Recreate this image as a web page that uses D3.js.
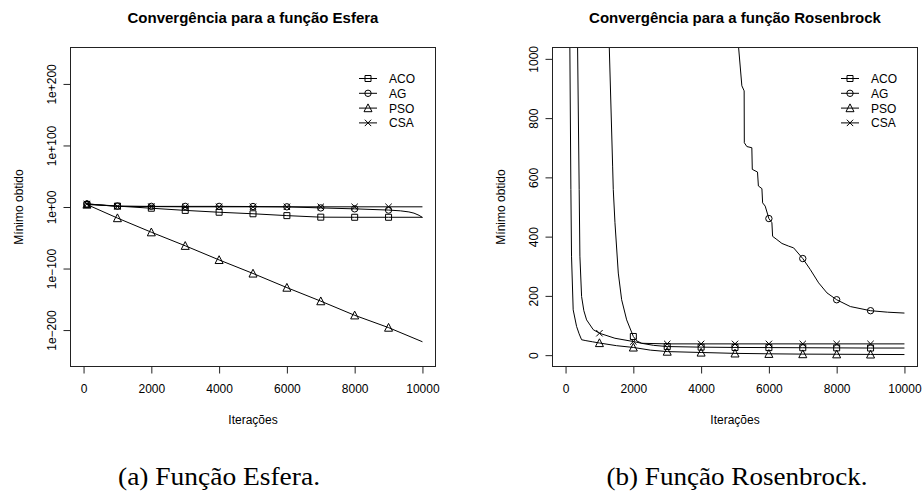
<!DOCTYPE html>
<html><head><meta charset="utf-8">
<script src="https://cdn.jsdelivr.net/npm/d3@7"></script>
<style>
body{margin:0;background:#fff}
svg{display:block}
text{font-family:"Liberation Sans",Arial,Helvetica,sans-serif;fill:#000}
</style>
</head><body>
<svg id="chart" width="922" height="491"></svg>
<script>
// ---------- shared ----------
const seriesNames = ["ACO", "AG", "PSO", "CSA"];
const markerIters = [100, 1000, 2000, 3000, 4000, 5000, 6000, 7000, 8000, 9000];
const xTicks = [0, 2000, 4000, 6000, 8000, 10000];

// ---------- Esfera (log scale) ----------
const esferaTitle = "Convergência para a função Esfera";
const esferaYTicks = [1e-200, 1e-100, 1, 1e100, 1e200];
const esferaYTickLabels = ["1e\u2212200", "1e\u2212100", "1e+00", "1e+100", "1e+200"];
const esferaIter = [100, 1000, 2000, 3000, 4000, 5000, 6000, 7000, 8000, 9000, 10000];
const esferaACO = [1e4, 3e1, 1e-2, 3e-6, 3e-9, 1e-11, 1e-14, 3e-17, 2e-17, 2e-17, 2e-17];
const esferaPSO = [1e4, 1e-18, 1e-41, 1e-63, 1e-86, 1e-108, 1e-131, 1e-153, 1e-176, 1e-196, 1e-219];
const esferaCSA = [1e5, 1e1, 5, 2, 2, 2, 2, 2, 2, 2, 2];
const esferaAGIter = [100, 1000, 2000, 3000, 4000, 5000, 6000, 7000, 8000, 9000, 9350, 9600, 9750, 9900, 10000];
const esferaAG = [1e5, 3e1, 1e1, 1e1, 1e1, 6, 2, 3e-2, 1e-3, 1e-5, 6e-7, 1e-8, 1e-10, 3e-14, 1e-17];

// ---------- Rosenbrock (linear scale) ----------
const rosenTitle = "Convergência para a função Rosenbrock";
const rosenYTicks = [0, 200, 400, 600, 800, 1000];
const rosenACOIter = [100, 1000, 1290, 1389, 1408, 1458, 1556, 1655, 1803, 2000, 2100, 2246, 2600, 3000, 4000, 5000, 6000, 7000, 8000, 9000, 10000];
const rosenACO = [30000, 3000, 1040, 638, 559, 447, 277, 187, 119, 63, 48, 40, 33, 29, 27, 26, 25.5, 25, 24.5, 24, 24];
const rosenAGIter = [100, 1000, 2000, 3000, 4000, 5000, 5102, 5202, 5270, 5275, 5350, 5497, 5510, 5664, 5690, 5794, 5815, 5891, 6000, 6089, 6110, 6237, 6385, 6582, 6730, 7000, 7221, 7468, 7715, 8000, 8404, 9000, 9500, 10000];
const rosenAG = [200000, 50000, 10000, 5000, 3000, 1500, 1044, 909, 892, 717, 704, 700, 627, 618, 571, 562, 514, 503, 461, 447, 401, 390, 377, 368, 362, 326, 289, 244, 210, 187, 164, 150, 145, 142];
const rosenPSOIter = [100, 127, 157, 176, 225, 325, 400, 473, 600, 800, 1000, 1500, 2000, 2500, 3000, 4000, 5000, 6000, 7000, 8000, 9000, 10000];
const rosenPSO = [4000, 1040, 559, 334, 153, 97, 72, 52, 49, 45, 41, 32, 26, 17, 12, 9, 6, 4.5, 3.5, 3, 2.5, 2];
const rosenCSAIter = [100, 355, 402, 423, 473, 540, 621, 817, 1000, 1457, 2000, 2246, 3000, 4000, 5000, 6000, 7000, 8000, 9000, 10000];
const rosenCSA = [6000, 1040, 559, 334, 198, 150, 119, 86, 74, 57, 46, 40, 38, 38, 38, 38, 38, 38, 38, 38];

const captions = ["(a) Função Esfera.", "(b) Função Rosenbrock."];

// ---------- drawing ----------
const svg = d3.select("#chart");

// R-like plotting symbols (open)
const symbolDefs = {
  ACO: { draw(ctx) { const h = 3; ctx.moveTo(-h, -h); ctx.lineTo(h, -h); ctx.lineTo(h, h); ctx.lineTo(-h, h); ctx.closePath(); } },
  AG: { draw(ctx) { const r = 3.2; ctx.moveTo(r, 0); ctx.arc(0, 0, r, 0, 2 * Math.PI); } },
  PSO: { draw(ctx) { const w = 4, h = 3.6; ctx.moveTo(0, -h - 0.6); ctx.lineTo(w, h); ctx.lineTo(-w, h); ctx.closePath(); } },
  CSA: { draw(ctx) { const h = 3.2; ctx.moveTo(-h, -h); ctx.lineTo(h, h); ctx.moveTo(h, -h); ctx.lineTo(-h, h); } }
};

function drawPanel(cfg) {
  const g = svg.append("g");
  const { left, right, top, bottom } = cfg.box;
  const x = d3.scaleLinear().domain([-400, 10400]).range([left, right]);
  const y = cfg.y;

  const clipId = "clip" + cfg.id;
  svg.append("clipPath").attr("id", clipId)
    .append("rect").attr("x", left).attr("y", top).attr("width", right - left).attr("height", bottom - top);

  const plot = g.append("g").attr("clip-path", `url(#${clipId})`);
  const line = d3.line().x(d => x(d[0])).y(d => y(d[1]));

  cfg.series.forEach(s => {
    const pts = s.iter.map((it, i) => [it, s.vals[i]]);
    plot.append("path").datum(pts).attr("d", line)
      .attr("fill", "none").attr("stroke", "#000").attr("stroke-width", 1);
    const mk = pts.filter(p => markerIters.includes(p[0]));
    plot.selectAll(null).data(mk).join("path")
      .attr("transform", d => `translate(${x(d[0])},${y(d[1])})`)
      .attr("d", d3.symbol().type(symbolDefs[s.name]).size(1)())
      .attr("fill", "none").attr("stroke", "#000").attr("stroke-width", 1);
  });

  // box
  g.append("rect").attr("x", left + 0.5).attr("y", top + 0.5)
    .attr("width", right - left - 1).attr("height", bottom - top - 1)
    .attr("fill", "none").attr("stroke", "#222").attr("stroke-width", 1);

  // x axis
  const xa = g.append("g").attr("transform", `translate(0,${bottom - 0.5})`)
    .call(d3.axisBottom(x).tickValues(xTicks).tickSize(7).tickPadding(11).tickFormat(d3.format("d")));
  xa.select(".domain").remove();
  xa.selectAll("text").style("font-size", "12px").attr("font-family", null);
  xa.selectAll("line").attr("stroke", "#222");

  // y axis
  const ya = g.append("g").attr("transform", `translate(${left + 0.5},0)`)
    .call(d3.axisLeft(y).tickValues(cfg.yTicks).tickSize(7).tickFormat((d, i) => cfg.yLabels[i]));
  ya.select(".domain").remove();
  ya.selectAll("line").attr("stroke", "#222");
  ya.selectAll("text").attr("x", null).attr("dy", null).attr("y", null)
    .attr("transform", "translate(-15,0) rotate(-90)")
    .style("text-anchor", "middle").style("font-size", "12px");

  // title
  g.append("text").attr("x", (left + right) / 2).attr("y", 23)
    .attr("text-anchor", "middle").style("font-size", "15px").style("font-weight", "bold")
    .text(cfg.title);
  // axis titles
  g.append("text").attr("x", (left + right) / 2).attr("y", 424)
    .attr("text-anchor", "middle").style("font-size", "12px").text("Iterações");
  g.append("text").attr("transform", `translate(${left - 47},${(top + bottom) / 2}) rotate(-90)`)
    .attr("text-anchor", "middle").style("font-size", "12px").text("Mínimo obtido");

  // legend
  const lg = g.append("g");
  seriesNames.forEach((n, i) => {
    const cy = 78.5 + i * 14.8;
    lg.append("line").attr("x1", cfg.legX - 9).attr("x2", cfg.legX + 9)
      .attr("y1", cy).attr("y2", cy).attr("stroke", "#000");
    lg.append("path").attr("transform", `translate(${cfg.legX},${cy})`)
      .attr("d", d3.symbol().type(symbolDefs[n]).size(1)())
      .attr("fill", "none").attr("stroke", "#000");
    lg.append("text").attr("x", cfg.legX + 21).attr("y", cy + 4.4)
      .style("font-size", "12px").text(n);
  });

  // caption
  svg.append("text").attr("x", cfg.capX).attr("y", 485)
    .attr("text-anchor", "middle")
    .attr("textLength", cfg.capW).attr("lengthAdjust", "spacingAndGlyphs")
    .style("font-family", "'Liberation Serif','Times New Roman',serif")
    .style("font-size", "25px").text(cfg.caption);
}

const boxL = { left: 70, right: 436, top: 47, bottom: 367 };
const boxR = { left: 552, right: 918, top: 47, bottom: 367 };

drawPanel({
  id: "A", box: boxL, title: esferaTitle, caption: captions[0], capX: 219, capW: 202, legX: 368,
  y: d3.scaleLog().domain([1e-260, 1e260]).range([boxL.bottom, boxL.top]),
  yTicks: esferaYTicks, yLabels: esferaYTickLabels,
  series: [
    { name: "ACO", iter: esferaIter, vals: esferaACO },
    { name: "AG", iter: esferaAGIter, vals: esferaAG },
    { name: "PSO", iter: esferaIter, vals: esferaPSO },
    { name: "CSA", iter: esferaIter, vals: esferaCSA }
  ]
});

drawPanel({
  id: "B", box: boxR, title: rosenTitle, caption: captions[1], capX: 737, capW: 261, legX: 850,
  y: d3.scaleLinear().domain([-40, 1040]).range([boxR.bottom, boxR.top]),
  yTicks: rosenYTicks, yLabels: rosenYTicks.map(String),
  series: [
    { name: "ACO", iter: rosenACOIter, vals: rosenACO },
    { name: "AG", iter: rosenAGIter, vals: rosenAG },
    { name: "PSO", iter: rosenPSOIter, vals: rosenPSO },
    { name: "CSA", iter: rosenCSAIter, vals: rosenCSA }
  ]
});
</script>
</body></html>
